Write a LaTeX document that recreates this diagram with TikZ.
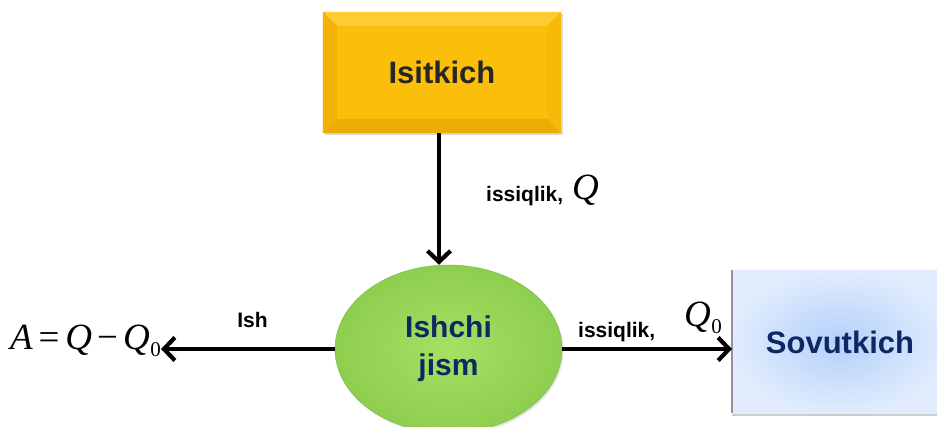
\documentclass[tikz,border=0pt]{standalone}
\usepackage{fontspec}
\setmainfont{Liberation Sans}
\newfontfamily\tnr{Liberation Serif}
\usetikzlibrary{arrows.meta,shapes.geometric,shadows,calc}

\definecolor{gold}{RGB}{251,190,10}
\definecolor{goldtop}{RGB}{253,204,50}
\definecolor{goldside}{RGB}{242,178,4}
\definecolor{goldbot}{RGB}{236,172,2}
\definecolor{greenin}{RGB}{166,224,100}
\definecolor{greenout}{RGB}{142,206,78}
\definecolor{greenedge}{RGB}{130,185,80}
\definecolor{bluein}{RGB}{180,208,250}
\definecolor{blueout}{RGB}{224,236,253}
\definecolor{navy}{RGB}{14,40,100}
\definecolor{darktext}{RGB}{38,38,38}

\tikzset{
  arr/.style={line width=4.2pt,-{Straight Barb[length=11pt,width=23pt]}},
  boxtext/.style={font=\fontsize{31}{31}\selectfont\bfseries},
  lbl/.style={font=\fontsize{21}{21}\selectfont\bfseries, inner sep=0pt},
  mathq/.style={font=\tnr\itshape\fontsize{37}{37}\selectfont, inner sep=0pt},
}

\begin{document}
\begin{tikzpicture}[x=1pt,y=-1pt]
\useasboundingbox (0,0) rectangle (937,427);

% heater block with bevelled edges
\node[rectangle, inner sep=0pt, minimum width=238pt, minimum height=121pt,
      fill=gold, drop shadow={opacity=0.3, shadow xshift=1.5pt, shadow yshift=-2pt}]
      (isit) at (442,72.5) {};
\fill[goldtop] (isit.north west) -- (isit.north east) -- ($(isit.north east)+(-14,14)$) -- ($(isit.north west)+(14,14)$) -- cycle;
\fill[goldside] (isit.north west) -- ($(isit.north west)+(14,14)$) -- ($(isit.south west)+(14,-14)$) -- (isit.south west) -- cycle;
\fill[goldside!50!gold] (isit.north east) -- ($(isit.north east)+(-14,14)$) -- ($(isit.south east)+(-14,-14)$) -- (isit.south east) -- cycle;
\fill[goldbot] (isit.south west) -- ($(isit.south west)+(14,-14)$) -- ($(isit.south east)+(-14,-14)$) -- (isit.south east) -- cycle;
\node[boxtext, text=darktext] at (isit.center) {Isitkich};

% working body
\node[ellipse, inner sep=0pt, minimum width=227pt, minimum height=168pt,
      inner color=greenin, outer color=greenout, draw=greenedge, line width=0.5pt,
      drop shadow={opacity=0.2, shadow xshift=1.5pt, shadow yshift=-2pt},
      align=center, text=navy, font=\fontsize{30}{38}\selectfont\bfseries]
      (ishchi) at (448.5,349) {\raisebox{-4pt}{Ishchi}\\\raisebox{-4pt}{jism}};

% cooler block
\node[rectangle, inner sep=0pt, minimum width=215pt, minimum height=143pt, anchor=north west,
      inner color=bluein, outer color=blueout,
      drop shadow={opacity=0.4, shadow xshift=0pt, shadow yshift=-2.5pt}]
      (sovut) at (732,270) {};
\draw[gray!85, line width=1.2pt] (sovut.north west) -- (sovut.south west);
\node[boxtext, text=navy] at (840,342) {Sovutkich};

% heat flow and work arrows
\draw[arr] ($(isit.south)+(-3,0)$) coordinate (top) -- (top |- ishchi.north);
\node[inner sep=0pt, anchor=base east] (formula) at (161,350)
  {\tnr\fontsize{37}{37}\selectfont\itshape A\kern6pt\upshape=\kern6pt\itshape Q\kern5pt\upshape\char"2212\kern5pt\itshape Q\kern0.5pt\raisebox{-7pt}{\upshape\fontsize{21}{21}\selectfont 0}};
\draw[arr] (ishchi.west) -- (ishchi.west -| formula.east);
\draw[arr] (ishchi.east) -- (ishchi.east -| sovut.west);

% labels
\node[lbl, anchor=base west] (lq) at (486,202) {issiqlik,};
\node[mathq, anchor=base west] (q) at (572,200) {Q};
\node[lbl, anchor=base] (lish) at (252.5,328) {Ish};
\node[lbl, anchor=base west] (lq0) at (578,338) {issiqlik,};
\node[mathq, anchor=base west] (q0) at (684,327) {Q\kern0.5pt\raisebox{-7pt}{\upshape\fontsize{21}{21}\selectfont 0}};
\end{tikzpicture}
\end{document}
